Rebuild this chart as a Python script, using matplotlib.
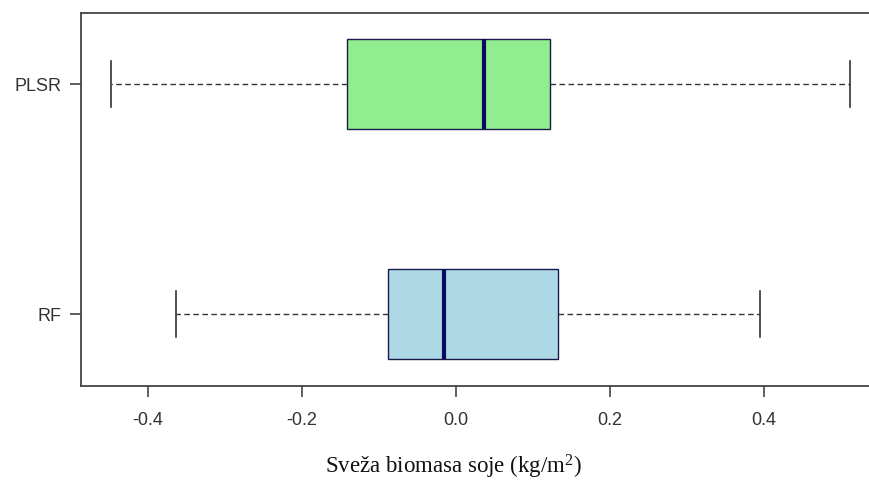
import matplotlib
matplotlib.use("Agg")
import matplotlib.pyplot as plt

# modeli i statistike boxplota (ocitano sa slike)
models = ["RF", "PLSR"]
whis_low = [-0.363, -0.448]
q1 = [-0.088, -0.141]
medians = [-0.015, 0.036]
q3 = [0.132, 0.122]
whis_high = [0.395, 0.511]
colors = ["#ADD8E6", "#90EE90"]

stats = []
for i, name in enumerate(models):
    stats.append({"label": name, "whislo": whis_low[i], "q1": q1[i],
                  "med": medians[i], "q3": q3[i], "whishi": whis_high[i],
                  "fliers": []})

plt.rcParams["mathtext.fontset"] = "custom"
plt.rcParams["mathtext.rm"] = "Liberation Serif"

fig = plt.figure(figsize=(8.69, 4.84), dpi=100)
ax = fig.add_axes([0.0932, 0.2025, 0.9172, 0.7705])

axis_col = "#444444"
bp = ax.bxp(stats, positions=[1, 2], vert=False, widths=0.39, patch_artist=True,
            showfliers=False,
            boxprops=dict(edgecolor="#1a1a4a", linewidth=1.0),
            medianprops=dict(color="#0a0a60", linewidth=3.0),
            whiskerprops=dict(color="#333333", linestyle=(0, (4, 2.5)), linewidth=1.0),
            capprops=dict(color="#333333", linewidth=1.2),
            capwidths=0.2)
for patch, c in zip(bp["boxes"], colors):
    patch.set_facecolor(c)

ax.set_xlim(-0.487, 0.548)
ax.set_ylim(0.687, 2.309)
ax.set_xticks([-0.4, -0.2, 0.0, 0.2, 0.4])
ax.set_xticklabels(["-0.4", "-0.2", "0.0", "0.2", "0.4"])
ax.set_yticks([1, 2])
ax.set_yticklabels(models)

for s in ax.spines.values():
    s.set_color(axis_col)
    s.set_linewidth(1.3)

ax.tick_params(axis="both", length=8, width=1.2, color=axis_col,
               labelcolor="#333333", labelsize=13)
ax.tick_params(axis="x", pad=11)
ax.tick_params(axis="y", pad=6)
for lbl in ax.get_xticklabels() + ax.get_yticklabels():
    lbl.set_family(["Liberation Sans", "DejaVu Sans"])

fig.text(453 / 869, 1 - 467 / 484, r"Sveža biomasa soje (kg/m$\mathregular{^2}$)",
         ha="center", va="center", fontsize=16.5,
         family=["Liberation Serif", "DejaVu Serif"], color="#111111")

fig.savefig("out.png", dpi=100)
